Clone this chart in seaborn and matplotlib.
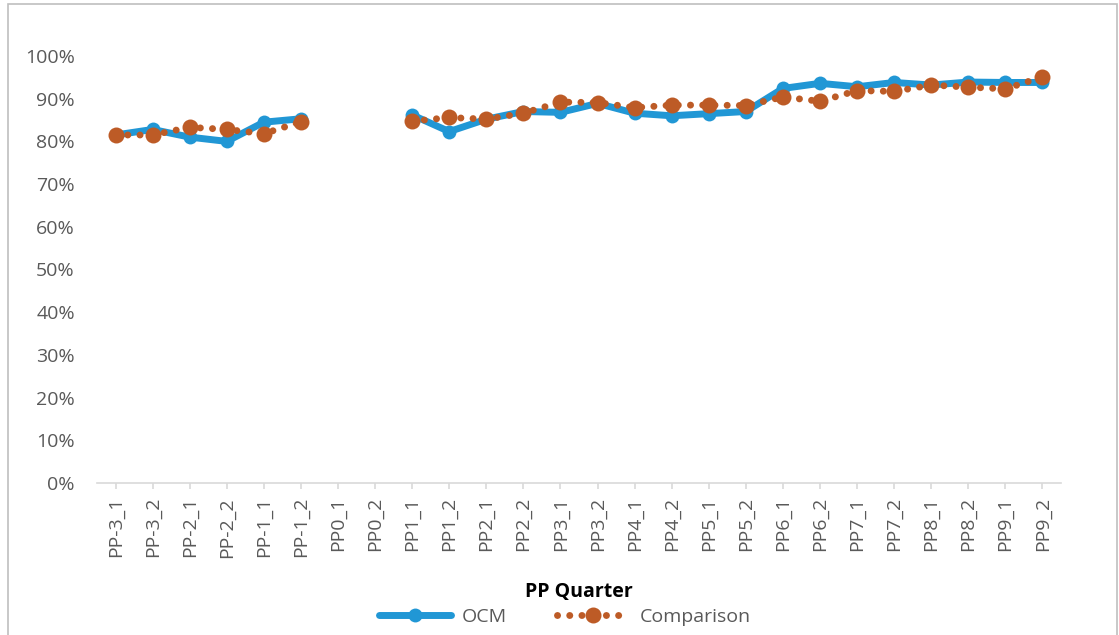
import numpy as np
import pandas as pd
import matplotlib
matplotlib.use("Agg")
import matplotlib.pyplot as plt
import seaborn as sns
from matplotlib.lines import Line2D
from matplotlib.patches import Rectangle
from matplotlib.ticker import FuncFormatter, MultipleLocator

quarters = ["PP-3_1", "PP-3_2", "PP-2_1", "PP-2_2", "PP-1_1", "PP-1_2", "PP0_1", "PP0_2",
            "PP1_1", "PP1_2", "PP2_1", "PP2_2", "PP3_1", "PP3_2", "PP4_1", "PP4_2",
            "PP5_1", "PP5_2", "PP6_1", "PP6_2", "PP7_1", "PP7_2", "PP8_1", "PP8_2",
            "PP9_1", "PP9_2"]
ocm = [81.5, 82.8, 81.0, 80.0, 84.5, 85.3, np.nan, np.nan,
       86.2, 82.3, 85.2, 87.0, 86.8, 88.9, 86.6, 86.0,
       86.5, 87.0, 92.4, 93.6, 92.8, 93.8, 93.2, 93.9,
       93.8, 93.8]
comparison = [81.5, 81.5, 83.3, 82.8, 81.8, 84.6, np.nan, np.nan,
              84.7, 85.6, 85.2, 86.6, 89.2, 89.1, 87.9, 88.5,
              88.5, 88.4, 90.4, 89.4, 91.9, 91.7, 93.2, 92.7,
              92.3, 95.1]

BLUE = "#2197D5"
ORANGE = "#BD5B26"
GRAY = "#595959"
AXC = "#D9D9D9"
DOTS = (0, (0.01, 1.75))

sns.set_theme(style="white")
plt.rcParams["font.family"] = ["Open Sans", "DejaVu Sans"]

df = pd.DataFrame({"idx": np.arange(len(quarters)), "quarter": quarters,
                   "OCM": ocm, "Comparison": comparison})
# contiguous segments so that missing values leave a gap
valid = df["OCM"].notna()
df["seg"] = (valid != valid.shift()).cumsum()
df = df[valid]

fig = plt.figure(figsize=(11.19, 6.35), dpi=100)
ax = fig.add_axes([97 / 1119, 1 - 483 / 635, (1061 - 97) / 1119, (483 - 56) / 635])

sns.lineplot(data=df, x="idx", y="OCM", units="seg", estimator=None, ax=ax,
             color=BLUE, linewidth=5, marker="o", markersize=10,
             markeredgewidth=0, sort=False, zorder=2)
n_before = len(ax.lines)
sns.lineplot(data=df, x="idx", y="Comparison", units="seg", estimator=None, ax=ax,
             color=ORANGE, linewidth=5, marker="o", markersize=11.5,
             markeredgewidth=0, sort=False, zorder=3)
# make comparison line round-dotted
for ln in ax.lines[n_before:]:
    ln.set_linestyle(DOTS)
    ln.set_dash_capstyle("round")

ax.set_xlim(-0.5, len(quarters) - 0.5)
ax.set_ylim(0, 100)
ax.yaxis.set_major_locator(MultipleLocator(10))
ax.yaxis.set_major_formatter(FuncFormatter(lambda v, p: f"{v:.0f}%"))
ax.set_xticks(np.arange(len(quarters)))
ax.set_xticklabels(quarters, rotation=90)

for s in ["top", "right", "left"]:
    ax.spines[s].set_visible(False)
ax.spines["bottom"].set_color(AXC)
ax.spines["bottom"].set_linewidth(1.2)
ax.tick_params(axis="x", length=4, width=1.2, color=AXC, pad=6,
               labelsize=14, labelcolor=GRAY, bottom=True)
ax.tick_params(axis="y", length=0, pad=16, labelsize=14, labelcolor=GRAY)
ax.grid(False)
ax.set_ylabel("")
ax.set_xlabel("")

fig.text(0.5 * (97 + 1061) / 1119, 1 - 592 / 635, "PP Quarter", ha="center",
         va="center", fontsize=14, fontweight="bold", color="black")

handles = [
    Line2D([], [], color=BLUE, linewidth=5, marker="o", markersize=10,
           markeredgewidth=0),
    Line2D([], [], color=ORANGE, linewidth=5, marker="o", markersize=11.5,
           markeredgewidth=0, linestyle=DOTS, dash_capstyle="round"),
]
fig.legend(handles, ["OCM", "Comparison"], loc="center",
           bbox_to_anchor=(565 / 1119, 1 - 617 / 635), ncol=2, frameon=False,
           fontsize=14, labelcolor=GRAY, handlelength=3.7, columnspacing=2.6,
           handletextpad=0.55, numpoints=1)

fig.patches.append(Rectangle((8 / 1119, -0.02), (1117 - 8) / 1119, 1.02 - 4 / 635,
                             transform=fig.transFigure, fill=False,
                             edgecolor="#BFBFBF", linewidth=1.2))

fig.savefig("out.png", dpi=100)
